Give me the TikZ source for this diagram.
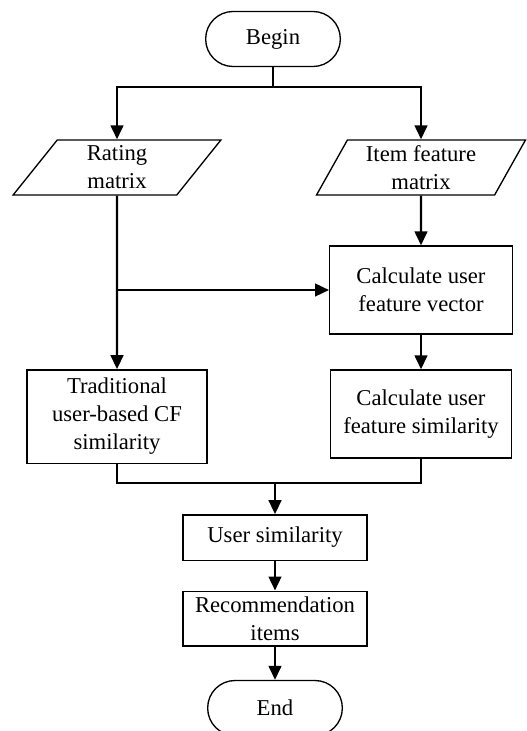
\documentclass[tikz,border=0pt]{standalone}
\usepackage{fontspec}
\setmainfont{Liberation Serif}
\usetikzlibrary{arrows.meta,shapes.geometric}

\tikzset{every picture/.style={line width=1pt}}
\tikzset{
  terminal/.style={draw, rectangle, rounded corners=20.5pt, minimum width=101pt, minimum height=41.25pt, inner sep=0.75pt},
  iobox/.style={draw, trapezium, trapezium left angle=63, trapezium right angle=117, trapezium stretches=true, minimum width=157pt, minimum height=41.25pt, inner sep=0.75pt, align=center},
  procbox/.style={draw, rectangle, inner sep=0.75pt, align=center},
  flow/.style={line width=1.8pt, -{Triangle[length=10.5pt,width=9.5pt]}},
  joint/.style={line width=1.8pt}
}

\begin{document}
\begin{tikzpicture}[x=0.75pt,y=0.75pt,yscale=-1,xscale=1,font=\fontsize{17}{21}\selectfont]
    \useasboundingbox (0,0) rectangle (526,731);

    % Terminals
    \node [terminal] (begin) at (273,39) {Begin};
    \node [terminal] (end) at (275,708) {End};

    % Inputs
    \node [iobox] (rating) at (117,167.5) {Rating\\matrix};
    \node [iobox] (item) at (421,167.5) {Item feature\\matrix};

    % Processes
    \node [procbox, minimum width=137pt, minimum height=66pt] (vec) at (421,290) {Calculate user\\feature vector};
    \node [procbox, minimum width=135pt, minimum height=70pt] (trad) at (117,416.5) {Traditional\\user-based CF\\similarity};
    \node [procbox, minimum width=136pt, minimum height=66pt] (sim) at (421,414) {Calculate user\\feature similarity};
    \node [procbox, minimum width=138pt, minimum height=34pt] (usersim) at (275,537.5) {User similarity};
    \node [procbox, minimum width=138pt, minimum height=41pt] (rec) at (275,618.5) {Recommendation\\items};

    % Junction points
    \coordinate (split) at (273,87);
    \coordinate (branch) at (117,290);
    \coordinate (merge) at (275,483);

    % Connectors
    \draw [joint] (begin) -- (split);
    \draw [flow] (split) -| (rating);
    \draw [flow] (split) -| (item);
    \draw [flow] (rating) -- (trad);
    \draw [flow] (branch) -- (vec);
    \draw [flow] (item) -- (vec);
    \draw [flow] (vec) -- (sim);
    \draw [joint] (trad) |- (merge) -| (sim);
    \draw [flow] (merge) -- (usersim);
    \draw [flow] (usersim) -- (rec);
    \draw [flow] (rec) -- (end);

\end{tikzpicture}
\end{document}
